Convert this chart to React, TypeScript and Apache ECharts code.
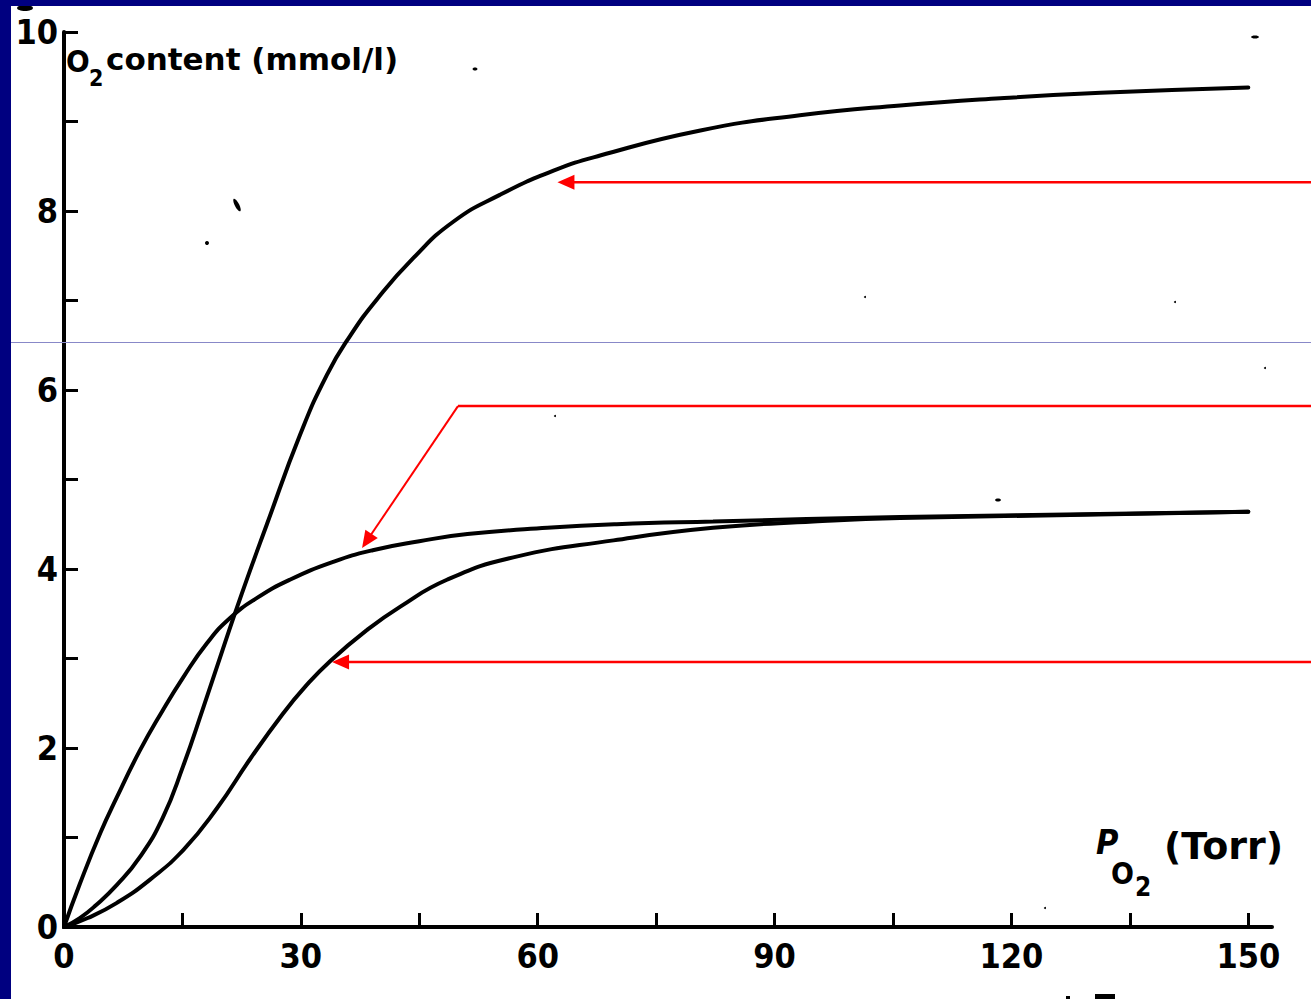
import React, { useEffect, useRef } from "react";
import * as echarts from "echarts";

// ---- data ----
const xTickValues = [0, 15, 30, 45, 60, 75, 90, 105, 120, 135, 150];
const xLabelValues = [0, 30, 60, 90, 120, 150];
const yLabelValues = [0, 2, 4, 6, 8, 10];

// Upper curve (full capacity)
const upperX = [0, 2, 4, 6.7, 9.6, 12.5, 15.1, 17.6, 20.1, 22.5, 25.7, 29.9, 33.3, 36.2, 39.7, 44.2, 49.3, 55.2, 62, 67.9, 80.6, 93.2, 105.9, 118.6, 131.3, 150];
const upperY = [0, 0.1, 0.24, 0.47, 0.78, 1.22, 1.8, 2.44, 3.1, 3.72, 4.5, 5.5, 6.17, 6.6, 7.02, 7.47, 7.88, 8.18, 8.45, 8.62, 8.9, 9.07, 9.18, 9.26, 9.32, 9.38];

// Hyperbolic curve (half capacity)
const hyperX = [0, 2, 4.6, 6.7, 9.6, 12.5, 15.1, 18.1, 21, 24.5, 28.6, 34.1, 39.1, 45, 51.1, 61.2, 70, 82.2, 105.9, 150];
const hyperY = [0, 0.48, 1.05, 1.45, 1.97, 2.42, 2.79, 3.17, 3.45, 3.68, 3.88, 4.08, 4.21, 4.31, 4.39, 4.46, 4.5, 4.53, 4.58, 4.64];

// Lower sigmoid curve (half capacity)
const lowerX = [0, 3, 6.7, 10.9, 15.1, 19.4, 23.6, 27.7, 30.5, 33.7, 38.4, 42.6, 48.5, 56.9, 69.6, 82.2, 94.9, 105.9, 150];
const lowerY = [0, 0.1, 0.27, 0.53, 0.86, 1.33, 1.88, 2.38, 2.68, 2.97, 3.32, 3.58, 3.88, 4.13, 4.32, 4.46, 4.53, 4.57, 4.64];

// Annotation arrow anchors (data coordinates)
const arrow1Tip = [62.5, 8.32];
const arrow2Tip = [37.75, 4.235];
const arrow2Elbow = [49.9, 5.82];
const arrow3Tip = [33.95, 2.96];

const NARROW = "'Liberation Sans Narrow', 'DejaVu Sans Condensed', 'Liberation Sans', sans-serif";
const WIDE = "'DejaVu Sans', 'Liberation Sans', sans-serif";

const zip = (xs: number[], ys: number[]) => xs.map((x, i) => [x, ys[i]]);

function arrowGraphics(from: number[], tip: number[], color: string, width: number) {
  const dx = tip[0] - from[0];
  const dy = tip[1] - from[1];
  const len = Math.sqrt(dx * dx + dy * dy) || 1;
  const ux = dx / len;
  const uy = dy / len;
  const headLen = 17;
  const headHalf = 7.5;
  const bx = tip[0] - ux * headLen;
  const by = tip[1] - uy * headLen;
  const px = -uy;
  const py = ux;
  return [
    {
      type: "line",
      z: 20,
      shape: { x1: from[0], y1: from[1], x2: bx + ux * 2, y2: by + uy * 2 },
      style: { stroke: color, lineWidth: width },
    },
    {
      type: "polygon",
      z: 20,
      shape: {
        points: [
          [tip[0], tip[1]],
          [bx + px * headHalf, by + py * headHalf],
          [bx - px * headHalf, by - py * headHalf],
        ],
      },
      style: { fill: color },
    },
  ];
}

export default function App() {
  const ref = useRef<HTMLDivElement>(null);

  useEffect(() => {
    if (!ref.current) return;
    const chart = echarts.init(ref.current, null, { renderer: "svg" });

    const lineSeries = (name: string, data: number[][]) => ({
      name,
      type: "line",
      data,
      smooth: 0.5,
      showSymbol: false,
      symbol: "none",
      lineStyle: { color: "#000", width: 4, cap: "round" },
      z: 5,
    });

    const staticGraphics: any[] = [
      { type: "rect", z: 30, shape: { x: 0, y: 0, width: 11, height: 999 }, style: { fill: "#000080" } },
      { type: "rect", z: 30, shape: { x: 0, y: 0, width: 1311, height: 6 }, style: { fill: "#000080" } },
      { type: "line", z: 1, shape: { x1: 11, y1: 342.5, x2: 1311, y2: 342.5 }, style: { stroke: "#8888c8", lineWidth: 1 } },
      // y axis title
      { type: "text", z: 10, x: 66, y: 45, style: { text: "O", fill: "#000", fontSize: 31, fontWeight: "bold", fontFamily: NARROW, verticalAlign: "top" } },
      { type: "text", z: 10, x: 89, y: 66, style: { text: "2", fill: "#000", fontSize: 23, fontWeight: "bold", fontFamily: NARROW, verticalAlign: "top" } },
      { type: "text", z: 10, x: 106, y: 43, style: { text: "content (mmol/l)", fill: "#000", fontSize: 31, fontWeight: "bold", fontFamily: WIDE, verticalAlign: "top" } },
      // x axis title
      { type: "text", z: 10, x: 1096, y: 825, style: { text: "P", fill: "#000", fontSize: 34, fontWeight: "bold", fontStyle: "italic", fontFamily: NARROW, verticalAlign: "top" } },
      { type: "text", z: 10, x: 1111, y: 858, style: { text: "O", fill: "#000", fontSize: 30, fontWeight: "bold", fontFamily: NARROW, verticalAlign: "top" } },
      { type: "text", z: 10, x: 1135, y: 874, style: { text: "2", fill: "#000", fontSize: 26, fontWeight: "bold", fontFamily: NARROW, verticalAlign: "top" } },
      { type: "text", z: 10, x: 1164, y: 827, style: { text: "(Torr)", fill: "#000", fontSize: 38, fontWeight: "bold", fontFamily: WIDE, verticalAlign: "top" } },
      // scan specks
      { type: "ellipse", z: 10, shape: { cx: 25, cy: 8, rx: 8, ry: 3 }, style: { fill: "#000" } },
      { type: "ellipse", z: 10, shape: { cx: 1255, cy: 37, rx: 4, ry: 1.5 }, style: { fill: "#000" } },
      { type: "ellipse", z: 10, shape: { cx: 475, cy: 69, rx: 2.5, ry: 1.5 }, style: { fill: "#000" } },
      { type: "ellipse", z: 10, x: 237, y: 205, rotation: -1.1, shape: { cx: 0, cy: 0, rx: 7, ry: 2.2 }, style: { fill: "#000" } },
      { type: "circle", z: 10, shape: { cx: 207, cy: 243, r: 2 }, style: { fill: "#000" } },
      { type: "ellipse", z: 10, shape: { cx: 998, cy: 500, rx: 3, ry: 1.5 }, style: { fill: "#000" } },
      { type: "circle", z: 10, shape: { cx: 555, cy: 416, r: 1 }, style: { fill: "#000" } },
      { type: "circle", z: 10, shape: { cx: 865, cy: 297, r: 1 }, style: { fill: "#000" } },
      { type: "circle", z: 10, shape: { cx: 1175, cy: 302, r: 1 }, style: { fill: "#000" } },
      { type: "circle", z: 10, shape: { cx: 1265, cy: 368, r: 1 }, style: { fill: "#000" } },
      { type: "circle", z: 10, shape: { cx: 1045, cy: 908, r: 1 }, style: { fill: "#000" } },
      { type: "rect", z: 10, shape: { x: 1066, y: 996, width: 4, height: 3 }, style: { fill: "#000" } },
      { type: "rect", z: 10, shape: { x: 1095, y: 994, width: 20, height: 5 }, style: { fill: "#000" } },
    ];

    const option: any = {
      animation: false,
      backgroundColor: "#fff",
      grid: { left: 64, top: 32, width: 1208, height: 895, containLabel: false },
      xAxis: {
        type: "value",
        min: 0,
        max: 153,
        axisLine: { show: true, lineStyle: { color: "#000", width: 4 } },
        axisTick: { show: true, inside: true, length: 14, customValues: xTickValues, lineStyle: { color: "#000", width: 3 } },
        axisLabel: {
          customValues: xLabelValues,
          color: "#000",
          fontSize: 34,
          fontWeight: "bold",
          fontFamily: NARROW,
          margin: 12,
        },
        splitLine: { show: false },
      },
      yAxis: {
        type: "value",
        min: 0,
        max: 10,
        interval: 1,
        axisLine: { show: true, lineStyle: { color: "#000", width: 4 } },
        axisTick: { show: true, inside: true, length: 14, lineStyle: { color: "#000", width: 3 } },
        axisLabel: {
          customValues: yLabelValues,
          color: "#000",
          fontSize: 34,
          fontWeight: "bold",
          fontFamily: NARROW,
          margin: 6,
        },
        splitLine: { show: false },
      },
      series: [
        lineSeries("upper", zip(upperX, upperY)),
        lineSeries("hyperbolic", zip(hyperX, hyperY)),
        lineSeries("lower", zip(lowerX, lowerY)),
      ],
      graphic: { elements: staticGraphics },
    };

    chart.setOption(option);

    const toPx = (p: number[]) => chart.convertToPixel({ gridIndex: 0 }, p) as number[];
    const t1 = toPx(arrow1Tip);
    const t2 = toPx(arrow2Tip);
    const e2 = toPx(arrow2Elbow);
    const t3 = toPx(arrow3Tip);
    const red = "#ff0000";
    const arrowEls: any[] = [
      ...arrowGraphics([1311, t1[1]], t1, red, 2.5),
      { type: "line", z: 20, shape: { x1: 1311, y1: e2[1], x2: e2[0], y2: e2[1] }, style: { stroke: red, lineWidth: 2.5 } },
      ...arrowGraphics(e2, t2, red, 2),
      ...arrowGraphics([1311, t3[1]], t3, red, 2.5),
    ];
    chart.setOption({ graphic: { elements: [...staticGraphics, ...arrowEls] } }, { replaceMerge: ["graphic"] });

    return () => {
      chart.dispose();
    };
  }, []);

  return (
    <div
      ref={ref}
      style={{ position: "fixed", left: 0, top: 0, width: 1311, height: 999, background: "#fff" }}
    />
  );
}
